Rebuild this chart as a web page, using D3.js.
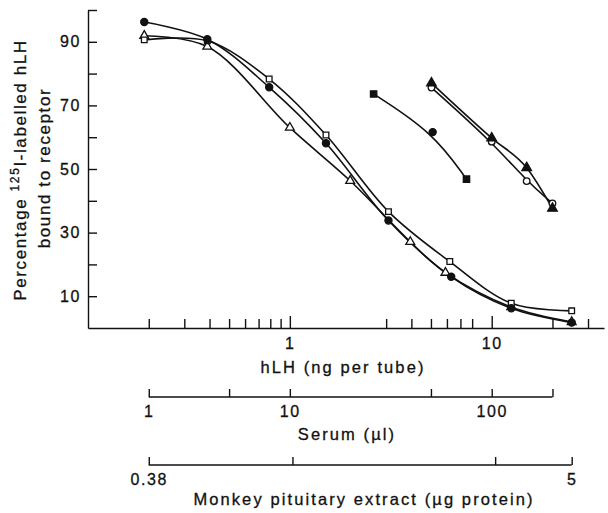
<!DOCTYPE html>
<html>
<head>
<meta charset="utf-8">
<script src="https://cdn.jsdelivr.net/npm/d3@7"></script>
<style>
  body { margin: 0; background: #fff; }
  svg { display: block; font-family: "Liberation Sans", Arial, sans-serif; }
</style>
</head>
<body>
<svg width="608" height="513"></svg>
<script>
// hLH standard curves, x = ng per tube, y = % bound
var stdDotDose = [0.19, 0.39, 0.79, 1.51, 3.08, 6.3, 12.5, 24.9];
var stdDotBound = [96.2, 90.8, 75.7, 58.1, 33.8, 16.1, 6.2, 1.7];
var stdSquareDose = [0.19, 0.39, 0.79, 1.51, 3.08, 6.2, 12.5, 24.9];
var stdSquareBound = [90.6, 90.3, 78.3, 60.7, 36.6, 20.9, 7.8, 5.4];
var stdTriDose = [0.19, 0.39, 1.0, 1.99, 3.95, 5.9, 12.5, 24.9];
var stdTriBound = [91.9, 88.5, 63.0, 46.3, 27.1, 17.4, 6.6, 1.9];

// serum and pituitary extract, placed at their hLH-equivalent position
var serumDose = [2.6, 5.1, 7.5];
var serumBound = [73.6, 61.6, 46.8];
var serumShape = ["fsquare", "dot", "fsquare"];
var pitTriDose = [5.03, 10, 14.9, 20];
var pitTriBound = [77.0, 59.7, 50.4, 37.6];
var pitRingDose = [5.03, 10, 14.9, 20];
var pitRingBound = [75.6, 58.6, 46.2, 39.2];

// axes
var hlhTicks = [0.2, 0.3, 0.4, 0.5, 0.6, 0.7, 0.8, 0.9, 1, 3, 4, 5, 6, 7, 8, 10, 20, 30];
var hlhLabels = [1, 10];
var yTicks = [10, 20, 30, 40, 50, 60, 70, 80, 90, 100];
var yLabels = [10, 30, 50, 70, 90];
// the two lower scales, given at the hLH position where each tick sits
var serumTickAt = [0.2, 0.5, 1, 5, 10, 20];
var serumTickLabels = ["1", "", "10", "", "100", ""];
var pitTickAt = [0.2, 1.03, 10.4, 24.9];
var pitTickLabels = ["0.38", "", "", "5"];

var series = [
  { dose: stdTriDose, bound: stdTriBound, shape: "otri", curve: d3.curveCatmullRom.alpha(0.5) },
  { dose: stdSquareDose, bound: stdSquareBound, shape: "osquare", curve: d3.curveCatmullRom.alpha(0.5) },
  { dose: stdDotDose, bound: stdDotBound, shape: "dot", curve: d3.curveCatmullRom.alpha(0.5) },
  { dose: serumDose, bound: serumBound, shape: serumShape, curve: d3.curveBasis },
  { dose: pitRingDose, bound: pitRingBound, shape: "ring", curve: d3.curveBasis },
  { dose: pitTriDose, bound: pitTriBound, shape: "ftri", curve: d3.curveMonotoneX }
];

var svg = d3.select("svg");
var x = d3.scaleLog().domain([0.1, 36]).range([88, 604]);
var y = d3.scaleLinear().domain([0, 100]).range([328, 10]);

var font = '"Liberation Sans", Arial, sans-serif';

function inked(t) {
  t.attr("fill", "#111").attr("stroke", "#111").attr("stroke-width", 0.3);
}

function styleAxis(g) {
  g.attr("font-family", font).attr("font-size", 16);
  g.selectAll("path, line").attr("stroke", "#111").attr("stroke-width", 1.4);
  g.selectAll("text").call(inked).style("letter-spacing", "1.6px");
}

var gx = svg.append("g")
  .attr("transform", "translate(0," + y(0) + ")")
  .call(d3.axisBottom(x).tickValues(hlhTicks).tickSize(-9).tickSizeOuter(0).tickPadding(10)
    .tickFormat(function(d) { return hlhLabels.indexOf(d) >= 0 ? d : ""; }))
  .call(styleAxis);
gx.selectAll(".tick line").filter(function(d) { return hlhLabels.indexOf(d) >= 0; }).attr("y2", -12);

svg.append("g")
  .attr("transform", "translate(" + x.range()[0] + ",0)")
  .call(d3.axisLeft(y).tickValues(yTicks).tickSize(-9).tickSizeOuter(0).tickPadding(7)
    .tickFormat(function(d) { return yLabels.indexOf(d) >= 0 ? d : ""; }))
  .call(styleAxis);

function subAxis(at, labels, yPos) {
  var g = svg.append("g")
    .attr("transform", "translate(0," + yPos + ")")
    .call(d3.axisBottom(x).tickValues(at).tickSize(-8).tickPadding(9)
      .tickFormat(function(d, i) { return labels[i]; }));
  g.select(".domain").remove();
  g.append("line").attr("x1", x(at[0])).attr("x2", x(at[at.length - 1]));
  g.call(styleAxis);
}
subAxis(serumTickAt, serumTickLabels, 397);
subAxis(pitTickAt, pitTickLabels, 465);

// axis titles
function title(txt, cx, by) {
  svg.append("text")
    .attr("x", cx).attr("y", by)
    .attr("text-anchor", "middle")
    .attr("font-size", 16.5)
    .style("letter-spacing", "2.1px")
    .call(inked)
    .text(txt);
}
title("hLH (ng per tube)", 343, 373);
title("Serum (\u00b5l)", 347, 440);
title("Monkey pituitary extract (\u00b5g protein)", 364, 505);

var yt = svg.append("text")
  .attr("transform", "translate(26,170) rotate(-90)")
  .attr("text-anchor", "middle")
  .attr("font-size", 17)
  .style("letter-spacing", "1.6px")
  .call(inked);
yt.append("tspan").text("Percentage ");
yt.append("tspan").attr("font-size", 12).attr("dy", -7).text("125");
yt.append("tspan").attr("dy", 7).text("I-labelled hLH");
svg.append("text")
  .attr("transform", "translate(50,168) rotate(-90)")
  .attr("text-anchor", "middle")
  .attr("font-size", 17)
  .style("letter-spacing", "1.6px")
  .call(inked)
  .text("bound to receptor");

// curves
var line = d3.line()
  .x(function(d) { return x(d[0]); })
  .y(function(d) { return y(d[1]); });

series.forEach(function(s) {
  var pts = s.dose.map(function(d, i) { return [d, s.bound[i], Array.isArray(s.shape) ? s.shape[i] : s.shape]; });
  svg.append("path")
    .datum(pts)
    .attr("fill", "none")
    .attr("stroke", "#111")
    .attr("stroke-width", 1.6)
    .attr("d", line.curve(s.curve));
  s.pts = pts;
});

var shapes = {
  dot: { type: d3.symbolCircle, size: 40, fill: "#111" },
  ring: { type: d3.symbolCircle, size: 34, fill: "#fff" },
  fsquare: { type: d3.symbolSquare, size: 40, fill: "#111" },
  osquare: { type: d3.symbolSquare, size: 32, fill: "#fff" },
  ftri: { type: d3.symbolTriangle, size: 40, fill: "#111" },
  otri: { type: d3.symbolTriangle, size: 34, fill: "#fff" }
};

series.forEach(function(s) {
  svg.append("g").selectAll("path")
    .data(s.pts)
    .enter().append("path")
    .attr("transform", function(d) { return "translate(" + x(d[0]) + "," + y(d[1]) + ")"; })
    .attr("d", function(d) { return d3.symbol().type(shapes[d[2]].type).size(shapes[d[2]].size)(); })
    .attr("fill", function(d) { return shapes[d[2]].fill; })
    .attr("stroke", "#111")
    .attr("stroke-width", 1.3);
});
</script>
</body>
</html>
